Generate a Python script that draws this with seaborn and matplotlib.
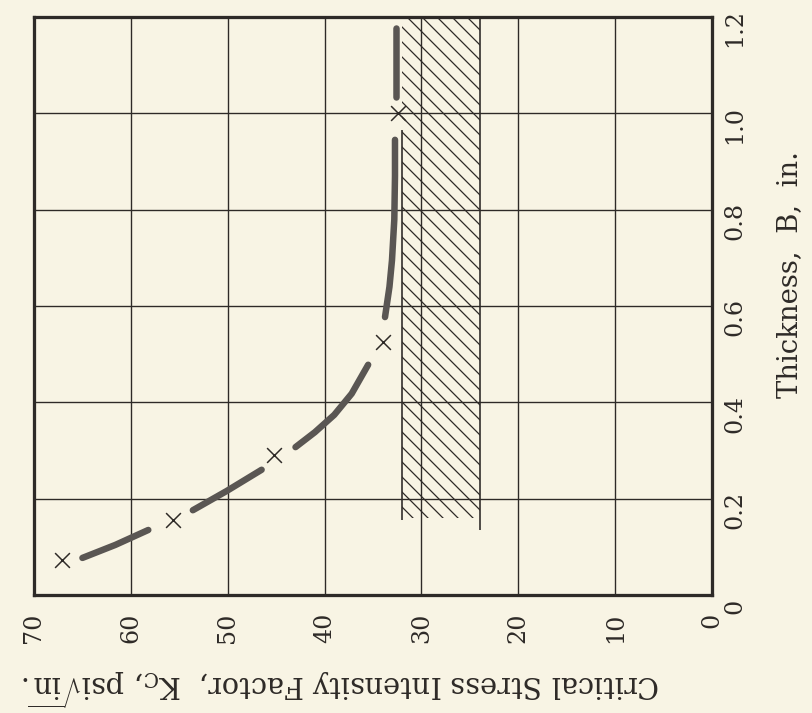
import matplotlib.pyplot as plt
from matplotlib.transforms import ScaledTranslation
import pandas as pd
import seaborn as sns

# test points: thickness B (in.) and Kc (psi sqrt(in.))
test_B = [0.073, 0.156, 0.29, 0.525, 1.0]
test_K = [67.1, 55.7, 45.2, 34.0, 32.4]

# faired curve, drawn as pieces between the test points
curve_seg = [1, 1, 1, 2, 2, 2, 3, 3, 3, 3, 3, 4, 4, 4, 4, 4, 4, 5, 5]
curve_B = [0.077, 0.104, 0.135,
           0.176, 0.216, 0.26,
           0.307, 0.338, 0.374, 0.418, 0.478,
           0.577, 0.64, 0.695, 0.78, 0.87, 0.945,
           1.034, 1.177]
curve_K = [65.0, 61.6, 58.2,
           53.6, 50.1, 46.5,
           43.0, 41.0, 39.0, 37.2, 35.5,
           33.76, 33.3, 33.04, 32.8, 32.73, 32.73,
           32.6, 32.6]

# hatched band
band_K = [24, 32]
band_B = [0.16, 1.2]
edge_K = [24, 32]
edge_B0 = [0.135, 0.156]
edge_B1 = [1.2, 0.965]

K_ticks = [0, 10, 20, 30, 40, 50, 60, 70]
B_ticks = [0, 0.2, 0.4, 0.6, 0.8, 1.0, 1.2]
B_labels = ['0', '0.2', '0.4', '0.6', '0.8', '1.0', '1.2']

paper = '#f8f4e4'
ink = '#2e2a27'
pencil = '#5a5653'

sns.set_theme(style='white', rc={'axes.facecolor': paper, 'figure.facecolor': paper})
plt.rcParams['font.family'] = ['DejaVu Serif']
plt.rcParams['mathtext.fontset'] = 'dejavuserif'
plt.rcParams['hatch.color'] = ink
plt.rcParams['hatch.linewidth'] = 1.0

dpi = 90
fig = plt.figure(figsize=(812 / dpi, 713 / dpi), dpi=dpi)
ax = fig.add_axes([34 / 812, 1 - 595 / 713, 678 / 812, 578 / 713])

curve = pd.DataFrame({'seg': curve_seg, 'B': curve_B, 'K': curve_K})
pts = pd.DataFrame({'B': test_B, 'K': test_K})

ax.fill_betweenx(band_B, band_K[0], band_K[1], facecolor='none',
                 edgecolor=ink, hatch='\\\\', linewidth=0, zorder=1)
ax.vlines(edge_K, edge_B0, edge_B1, color=ink, linewidth=1.3, zorder=1.5)

sns.lineplot(data=curve, x='K', y='B', units='seg', estimator=None, sort=False,
             color=pencil, linewidth=5.2, solid_capstyle='round', ax=ax, zorder=3)
sns.scatterplot(data=pts, x='K', y='B', marker='x', s=140, color=ink,
                linewidth=1.2, ax=ax, zorder=4)

ax.set_xlim(70, 0)
ax.set_ylim(0, 1.2)
ax.set_xticks(K_ticks)
ax.set_xticklabels([str(k) for k in K_ticks], rotation=90, fontsize=19)
ax.set_yticks(B_ticks)
ax.set_yticklabels(B_labels, rotation=90, va='center', fontsize=19)
ax.yaxis.tick_right()
ax.tick_params(axis='x', length=0, pad=14, colors=ink)
ax.tick_params(axis='y', length=0, pad=9, colors=ink)
for lbl in ax.get_yticklabels():
    lbl.set_transform(lbl.get_transform() + ScaledTranslation(0, -9 / 72, fig.dpi_scale_trans))

ax.set_axisbelow(True)
ax.grid(True, color=ink, linewidth=1.1)
for sp in ax.spines.values():
    sp.set_color(ink)
    sp.set_linewidth(2.6)

ax.set_xlabel(r'Critical Stress Intensity Factor,  K$_\mathrm{C}$, psi$\sqrt{\mathrm{in}}$.',
              fontsize=23, rotation=180, color=ink, ha='center', va='center')
ax.xaxis.set_label_coords(0.453, -0.161)
ax.yaxis.set_label_position('right')
ax.set_ylabel('Thickness,  B,  in.', fontsize=22, color=ink)
ax.yaxis.label.set_rotation(90)
ax.yaxis.label.set_rotation_mode('default')
ax.yaxis.label.set_ha('center')
ax.yaxis.label.set_va('center')
ax.yaxis.set_label_coords(1.115, 0.554)

fig.savefig('out.png', dpi=dpi, facecolor=paper)
